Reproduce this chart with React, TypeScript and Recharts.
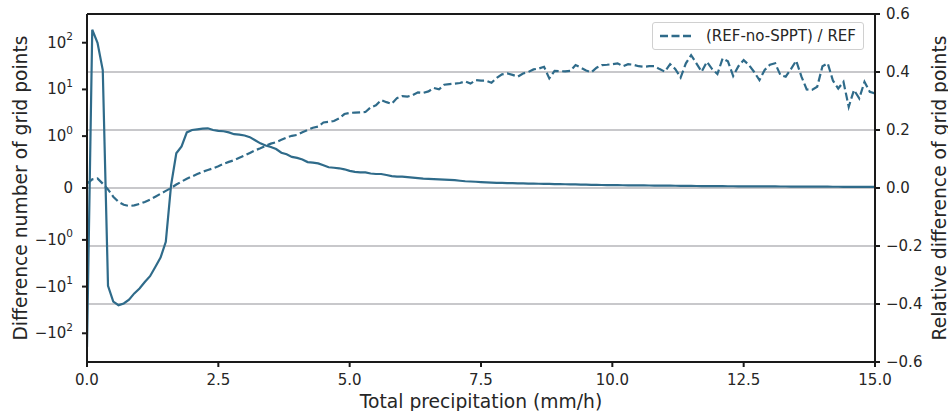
import React from 'react';
import { LineChart, Line, XAxis, YAxis, CartesianGrid, ReferenceLine, Legend, Label } from 'recharts';

// ---- data ----
// difference of number of grid points (REF-no-SPPT minus REF), left axis (symlog)
const countDiff: number[] = [
  -200, 190, 100, 26, -9.6, -21, -25, -23, -19, -14,
  -11, -8, -6, -3.8, -2.4, -1.1, 0.05, 0.67, 0.8, 1.2,
  1.35, 1.4, 1.45, 1.47, 1.35, 1.3, 1.27, 1.2, 1.1, 1.08,
  1.03, 0.98, 0.92, 0.86, 0.82, 0.79, 0.75, 0.68, 0.65, 0.6,
  0.58, 0.55, 0.5, 0.49, 0.475, 0.44, 0.4, 0.39, 0.38, 0.36,
  0.33, 0.31, 0.3, 0.3, 0.28, 0.27, 0.27, 0.25, 0.23, 0.22,
  0.22, 0.21, 0.2, 0.19, 0.18, 0.175, 0.17, 0.165, 0.16, 0.155,
  0.15, 0.14, 0.13, 0.125, 0.12, 0.115, 0.11, 0.105, 0.1, 0.098,
  0.095, 0.093, 0.09, 0.088, 0.086, 0.084, 0.082, 0.08, 0.078, 0.076,
  0.074, 0.072, 0.07, 0.068, 0.066, 0.064, 0.062, 0.06, 0.058, 0.056,
  0.055, 0.054, 0.053, 0.052, 0.051, 0.05, 0.049, 0.048, 0.047, 0.046,
  0.045, 0.044, 0.043, 0.042, 0.041, 0.04, 0.039, 0.038, 0.037, 0.036,
  0.035, 0.035, 0.034, 0.034, 0.033, 0.033, 0.032, 0.032, 0.031, 0.031,
  0.03, 0.03, 0.029, 0.029, 0.028, 0.028, 0.027, 0.027, 0.026, 0.026,
  0.025, 0.025, 0.024, 0.024, 0.023, 0.023, 0.022, 0.022, 0.021, 0.021,
  0.02,
];

// (REF-no-SPPT) / REF, right axis
const relativeDiff: number[] = [
  0.015, 0.03, 0.033, 0.015, -0.005, -0.03, -0.048, -0.058, -0.062, -0.06,
  -0.055, -0.048, -0.04, -0.03, -0.02, -0.01, 0.0, 0.012, 0.022, 0.032,
  0.04, 0.048, 0.056, 0.062, 0.068, 0.075, 0.083, 0.09, 0.096, 0.104,
  0.112, 0.121, 0.13, 0.137, 0.145, 0.153, 0.158, 0.166, 0.174, 0.18,
  0.183, 0.192, 0.2, 0.208, 0.212, 0.226, 0.228, 0.231, 0.24, 0.255,
  0.259, 0.26, 0.261, 0.262, 0.278, 0.285, 0.303, 0.296, 0.29, 0.31,
  0.317, 0.315, 0.32, 0.33, 0.328, 0.333, 0.345, 0.34, 0.356, 0.358,
  0.36, 0.362, 0.368, 0.36, 0.372, 0.37, 0.37, 0.363, 0.38, 0.392,
  0.395, 0.39, 0.384, 0.395, 0.4, 0.409, 0.412, 0.418, 0.378, 0.404,
  0.403, 0.402, 0.404, 0.424, 0.415, 0.405, 0.399, 0.415, 0.424, 0.425,
  0.427, 0.43, 0.42, 0.427, 0.425, 0.42, 0.418, 0.42, 0.42, 0.41,
  0.401, 0.427, 0.41, 0.381, 0.43, 0.458, 0.43, 0.401, 0.435, 0.41,
  0.393, 0.447, 0.437, 0.386, 0.42, 0.441, 0.424, 0.4, 0.372, 0.407,
  0.425, 0.43, 0.389, 0.384, 0.41, 0.439, 0.384, 0.34, 0.338, 0.349,
  0.42, 0.43, 0.37, 0.343, 0.366, 0.28, 0.338, 0.309, 0.366, 0.332,
  0.326,
];

// precipitation bins (mm/h), 0.1 mm/h spacing
const precipitation: number[] = countDiff.map((_, i) => i / 10);

const xTicks = [0, 2.5, 5, 7.5, 10, 12.5, 15];
const rightTicks = [-0.6, -0.4, -0.2, 0, 0.2, 0.4, 0.6];
const leftTickValues = [100, 10, 1, 0, -1, -10, -100];
const leftTickLabels = [
  { sign: '', base: '10', exp: '2' },
  { sign: '', base: '10', exp: '1' },
  { sign: '', base: '10', exp: '0' },
  { sign: '', base: '0', exp: '' },
  { sign: '\u2212', base: '10', exp: '0' },
  { sign: '\u2212', base: '10', exp: '1' },
  { sign: '\u2212', base: '10', exp: '2' },
];

const LEGEND_LABEL = '(REF-no-SPPT) / REF';
const X_LABEL = 'Total precipitation (mm/h)';
const Y_LEFT_LABEL = 'Difference number of grid points';
const Y_RIGHT_LABEL = 'Relative difference of grid points';

// ---- styling / layout ----
const W = 948;
const H = 411;
const COLOR = '#2f6b8a';
const TEXT = '#262626';
const SPINE = '#1a1a1a';
const GRID = '#b6b6ba';
const FONT = "'DejaVu Sans', sans-serif";
const LW = 2.2;
const DASH = '8 3.5';

// matplotlib-style symlog (linthresh 1, linscale 1, base 10)
const LIN = 1 / (1 - 1 / 10);
const symlog = (v: number) =>
  Math.abs(v) <= 1 ? v * LIN : Math.sign(v) * (LIN + Math.log10(Math.abs(v)));
const SYM_MAX = 3.726;

const data = precipitation.map((x, i) => ({
  x,
  s: symlog(countDiff[i]),
  r: relativeDiff[i],
}));

const leftTicks = leftTickValues.map(symlog);

const LeftTick = (props: any) => {
  const { x, y, index } = props;
  const lab = leftTickLabels[index] || { sign: '', base: '', exp: '' };
  return (
    <text x={x} y={y} textAnchor="end" dominantBaseline="central" fill={TEXT} fontSize={15} fontFamily={FONT}>
      {lab.sign}
      {lab.base}
      {lab.exp ? (
        <tspan dy={-6.5} fontSize={10.5}>
          {lab.exp}
        </tspan>
      ) : null}
    </text>
  );
};

const fmtRight = (v: number) => {
  const s = Math.abs(v) < 1e-9 ? '0.0' : v.toFixed(1);
  return s.replace('-', '\u2212');
};

const LegendBox = () => (
  <div
    style={{
      boxSizing: 'border-box',
      height: 28,
      padding: '0 7px',
      display: 'flex',
      alignItems: 'center',
      border: '1px solid #d0d0d0',
      borderRadius: 3,
      background: 'rgba(255,255,255,0.85)',
      fontFamily: FONT,
      fontSize: 15,
      color: TEXT,
      whiteSpace: 'nowrap',
    }}
  >
    <svg width={34} height={10} style={{ marginRight: 12 }}>
      <line x1={0} y1={5} x2={34} y2={5} stroke={COLOR} strokeWidth={LW + 0.3} strokeDasharray={DASH} />
    </svg>
    <span>{LEGEND_LABEL}</span>
  </div>
);

export default function App() {
  return (
    <div style={{ position: 'absolute', left: 0, top: 0, width: W, height: H, background: '#fff', overflow: 'hidden' }}>
      <LineChart width={W} height={H} data={data} margin={{ top: 14, right: 0, bottom: 0, left: 0 }}>
        <CartesianGrid yAxisId="right" vertical={false} stroke={GRID} strokeWidth={1.6} />
        <XAxis
          dataKey="x"
          type="number"
          domain={[0, 15]}
          ticks={xTicks}
          tickFormatter={(v: number) => v.toFixed(1)}
          height={49}
          tickSize={5}
          tickMargin={7}
          axisLine={{ stroke: SPINE, strokeWidth: 2 }}
          tickLine={{ stroke: SPINE, strokeWidth: 2 }}
          tick={{ fill: TEXT, fontSize: 15, fontFamily: FONT }}
          allowDataOverflow
        >
          <Label
            content={() => (
              <text x={481} y={408} textAnchor="middle" fill={TEXT} fontSize={18.7} fontFamily={FONT}>
                {X_LABEL}
              </text>
            )}
          />
        </XAxis>
        <YAxis
          yAxisId="left"
          orientation="left"
          type="number"
          domain={[-SYM_MAX, SYM_MAX]}
          ticks={leftTicks}
          width={87}
          tickSize={5}
          tickMargin={9}
          interval={0}
          axisLine={{ stroke: SPINE, strokeWidth: 2 }}
          tickLine={{ stroke: SPINE, strokeWidth: 2 }}
          tick={<LeftTick />}
          allowDataOverflow
        >
          <Label
            content={() => (
              <text
                x={20}
                y={188}
                transform="rotate(-90 20 188)"
                textAnchor="middle"
                dominantBaseline="central"
                fill={TEXT}
                fontSize={18.7}
                fontFamily={FONT}
              >
                {Y_LEFT_LABEL}
              </text>
            )}
          />
        </YAxis>
        <YAxis
          yAxisId="right"
          orientation="right"
          type="number"
          domain={[-0.6, 0.6]}
          ticks={rightTicks}
          width={73}
          tickSize={5}
          tickMargin={6}
          interval={0}
          tickFormatter={fmtRight}
          axisLine={{ stroke: SPINE, strokeWidth: 2 }}
          tickLine={{ stroke: SPINE, strokeWidth: 2 }}
          tick={{ fill: TEXT, fontSize: 15, fontFamily: FONT }}
          allowDataOverflow
        >
          <Label
            content={() => (
              <text
                x={939}
                y={188}
                transform="rotate(-90 939 188)"
                textAnchor="middle"
                dominantBaseline="central"
                fill={TEXT}
                fontSize={18.7}
                fontFamily={FONT}
              >
                {Y_RIGHT_LABEL}
              </text>
            )}
          />
        </YAxis>
        <Line
          yAxisId="left"
          dataKey="s"
          type="linear"
          stroke={COLOR}
          strokeWidth={LW}
          dot={false}
          activeDot={false}
          isAnimationActive={false}
          legendType="none"
        />
        <Line
          yAxisId="right"
          dataKey="r"
          type="linear"
          stroke={COLOR}
          strokeWidth={LW}
          strokeDasharray={DASH}
          dot={false}
          activeDot={false}
          isAnimationActive={false}
          name={LEGEND_LABEL}
        />
        <ReferenceLine yAxisId="right" y={0.6} stroke={SPINE} strokeWidth={2} />
        <Legend
          layout="horizontal"
          verticalAlign="middle"
          align="center"
          content={() => <LegendBox />}
          wrapperStyle={{ position: 'absolute', left: 652, top: 22, width: 'auto', height: 'auto' }}
        />
      </LineChart>
    </div>
  );
}
